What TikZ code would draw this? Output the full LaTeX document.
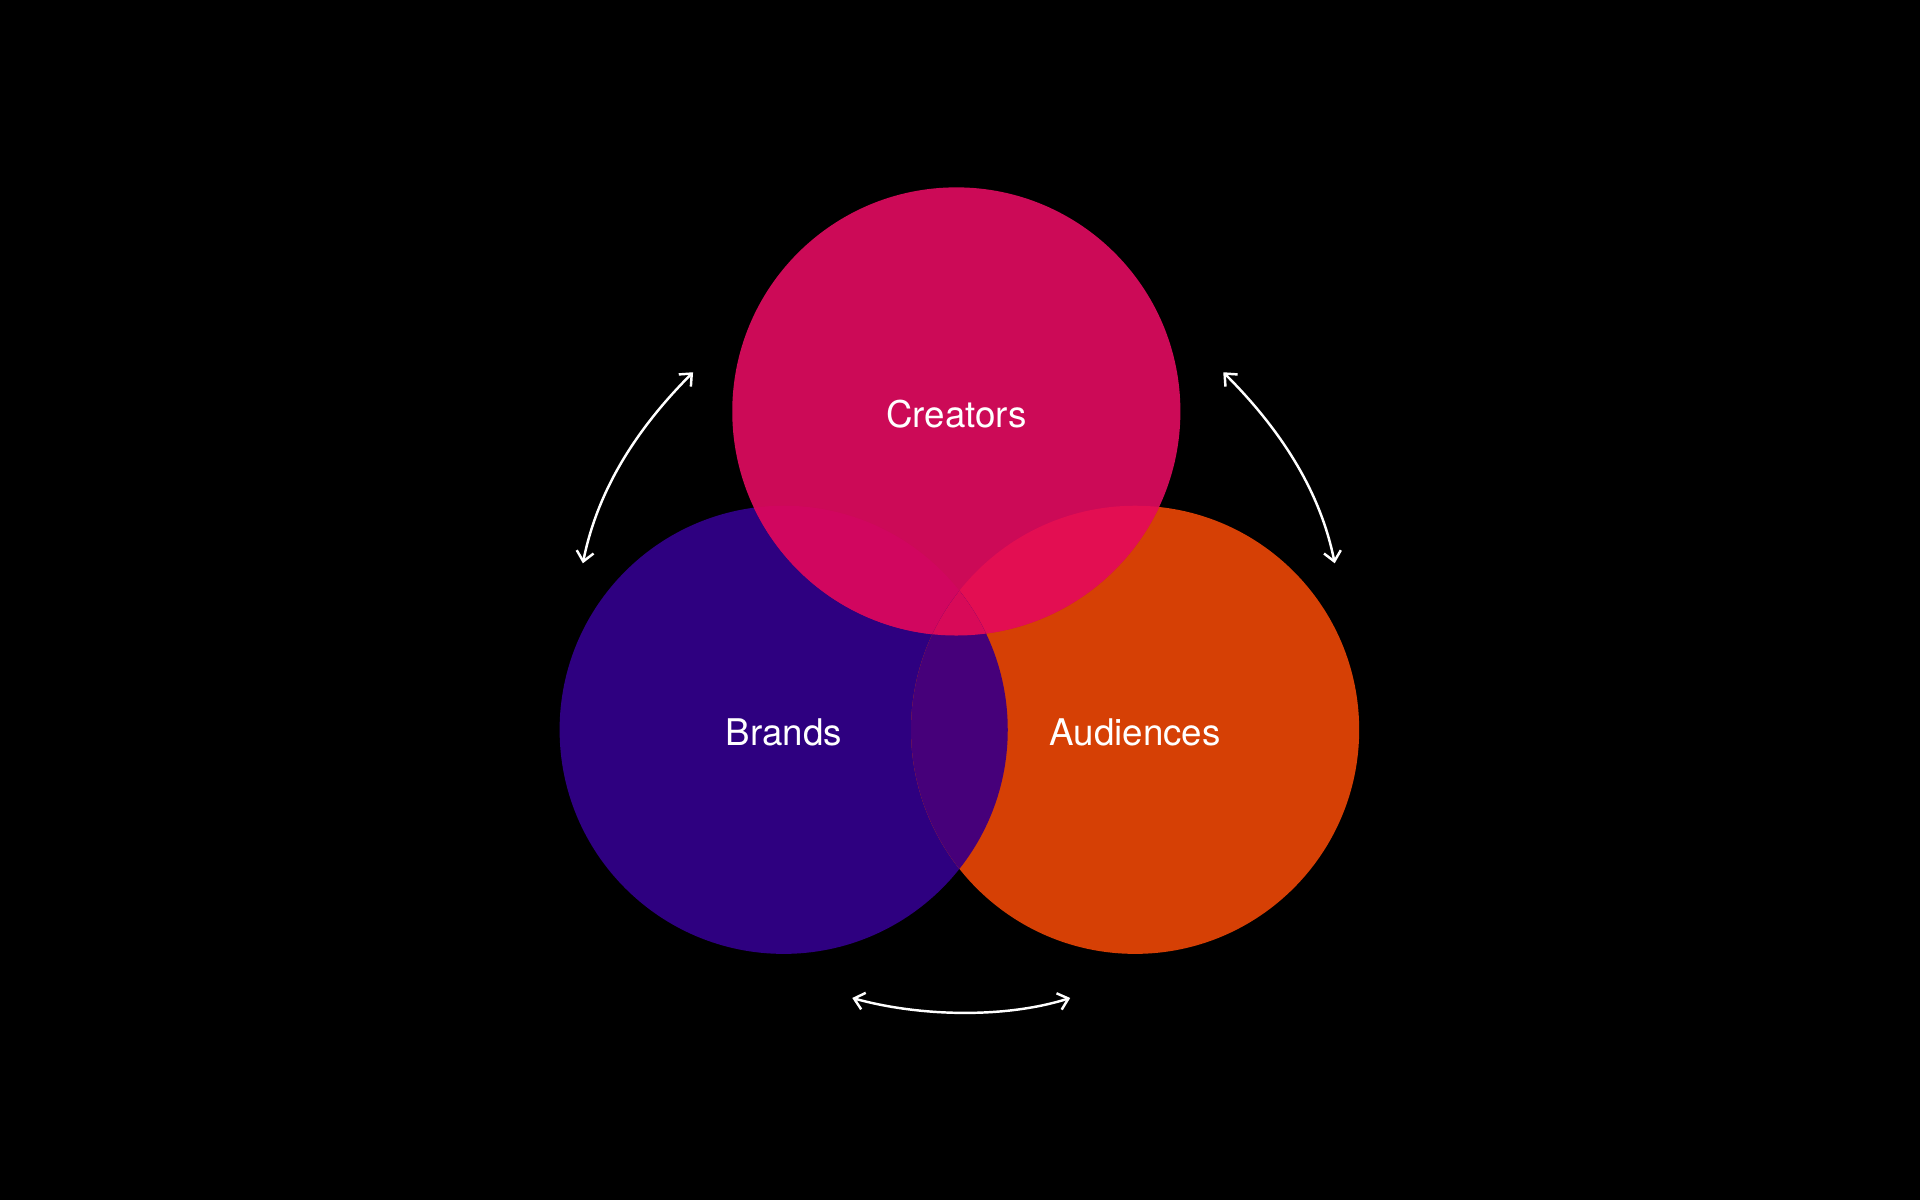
\documentclass[tikz,border=0pt]{standalone}
\usepackage{fontspec}
\setmainfont{TeX Gyre Heros}
\usetikzlibrary{arrows.meta}
\definecolor{cC}{HTML}{CC0A57}
\definecolor{cB}{HTML}{2E0080}
\definecolor{cA}{HTML}{D64005}
\definecolor{cBC}{HTML}{D1065F}
\definecolor{cCA}{HTML}{E30E52}
\definecolor{cBA}{HTML}{46007A}
\definecolor{cBCA}{HTML}{D80A58}
\tikzset{lbl/.style={text=white,font=\fontsize{30}{36}\selectfont},
 dbl/.style={white,line width=2pt,{Straight Barb[length=8pt,width=14pt]}-{Straight Barb[length=8pt,width=14pt]}}}
\begin{document}
\begin{tikzpicture}[x=1pt,y=-1pt]
\fill[black] (0,0) rectangle (1568,980);
\def\R{183}
\fill[cB] (640,596) circle (\R);
\fill[cA] (927,596) circle (\R);
\fill[cC] (781,336) circle (\R);
\begin{scope}\clip (640,596) circle (\R); \fill[cBC] (781,336) circle (\R); \end{scope}
\begin{scope}\clip (927,596) circle (\R); \fill[cCA] (781,336) circle (\R); \end{scope}
\begin{scope}\clip (640,596) circle (\R); \fill[cBA] (927,596) circle (\R); \end{scope}
\begin{scope}\clip (640,596) circle (\R); \clip (927,596) circle (\R); \fill[cBCA] (781,336) circle (\R); \end{scope}
\node[lbl] (cr) at (781,338) {Creators};
\node[lbl] (br) at (640,598) {Brands};
\node[lbl] (au) at (927,598) {Audiences};
\coordinate (l1) at (566,304); \coordinate (l2) at (476,460);
\coordinate (r1) at (999,304); \coordinate (r2) at (1090,460);
\coordinate (b1) at (696,815); \coordinate (b2) at (874,815);
\draw[dbl] (l1) .. controls (520,350) and (488,400) .. (l2);
\draw[dbl] (r1) .. controls (1045,350) and (1078,400) .. (r2);
\draw[dbl] (b1) .. controls (750,830) and (820,832) .. (b2);
\end{tikzpicture}
\end{document}
